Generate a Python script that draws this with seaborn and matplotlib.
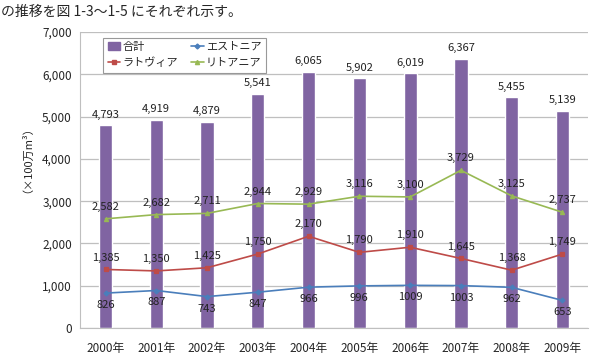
import matplotlib
matplotlib.use("Agg")
import matplotlib.pyplot as plt
import seaborn as sns
import pandas as pd
from matplotlib.lines import Line2D
from matplotlib.patches import Patch

years = ["2000年", "2001年", "2002年", "2003年", "2004年", "2005年", "2006年", "2007年", "2008年", "2009年"]
total = [4793, 4919, 4879, 5541, 6065, 5902, 6019, 6367, 5455, 5139]
estonia = [826, 887, 743, 847, 966, 996, 1009, 1003, 962, 653]
latvia = [1385, 1350, 1425, 1750, 2170, 1790, 1910, 1645, 1368, 1749]
lithuania = [2582, 2682, 2711, 2944, 2929, 3116, 3100, 3729, 3125, 2737]
yticks = [0, 1000, 2000, 3000, 4000, 5000, 6000, 7000]

sns.set_style("white")
plt.rcParams["font.family"] = ["Noto Sans CJK JP", "DejaVu Sans"]

df = pd.DataFrame({"year": years, "total": total, "est": estonia, "lat": latvia, "lit": lithuania})

fig = plt.figure(figsize=(5.98, 3.54), dpi=100)
ax = fig.add_axes([0.134, 0.0734, 0.849, 0.8362])

c_bar = "#8064A2"
c_est = "#4A7EBB"
c_lat = "#BE4B48"
c_lit = "#98B954"

sns.barplot(data=df, x="year", y="total", color=c_bar, width=0.26, saturation=1, ax=ax, zorder=2)
sns.pointplot(data=df, x="year", y="lit", color=c_lit, markers="^", markersize=3, linewidth=1.2, ax=ax, zorder=3)
sns.pointplot(data=df, x="year", y="lat", color=c_lat, markers="s", markersize=3, linewidth=1.2, ax=ax, zorder=3)
sns.pointplot(data=df, x="year", y="est", color=c_est, markers="D", markersize=2.5, linewidth=1.2, ax=ax, zorder=3)

ax.set_ylim(0, 7000)
ax.set_xlim(-0.5, 9.5)
ax.set_yticks(yticks)
ax.set_yticklabels([f"{v:,}" for v in yticks], fontsize=8.5)
ax.tick_params(axis="x", labelsize=8.5, length=0, pad=10)
ax.tick_params(axis="y", length=0, pad=6)
ax.set_xlabel("")
ax.set_ylabel("")
ax.yaxis.grid(True, color="#BFBFBF", linewidth=0.9, zorder=0)
ax.set_axisbelow(True)
for s in ["top", "right"]:
    ax.spines[s].set_visible(False)
ax.spines["left"].set_color("#BFBFBF")
ax.spines["bottom"].set_color("#BFBFBF")

fs = 8
for i, v in enumerate(total):
    ax.annotate(f"{v:,}", (i, v), xytext=(0, 4), textcoords="offset points", ha="center", va="bottom", fontsize=fs, color="#222222")
for i, v in enumerate(lithuania):
    ax.annotate(f"{v:,}", (i, v), xytext=(0, 5), textcoords="offset points", ha="center", va="bottom", fontsize=fs, color="#222222")
for i, v in enumerate(latvia):
    ax.annotate(f"{v:,}", (i, v), xytext=(0, 5), textcoords="offset points", ha="center", va="bottom", fontsize=fs, color="#222222")
for i, v in enumerate(estonia):
    ax.annotate(f"{v}", (i, v), xytext=(0, -5), textcoords="offset points", ha="center", va="top", fontsize=fs, color="#222222")

handles = [
    Patch(facecolor=c_bar, edgecolor=c_bar),
    Line2D([], [], color=c_lat, marker="s", markersize=3, linewidth=1.2),
    Line2D([], [], color=c_est, marker="D", markersize=2.5, linewidth=1.2),
    Line2D([], [], color=c_lit, marker="^", markersize=3, linewidth=1.2),
]
labels = ["合計", "ラトヴィア", "エストニア", "リトアニア"]
leg = ax.legend(handles, labels, ncol=2, loc="upper left", bbox_to_anchor=(0.035, 1.0),
                fontsize=8, frameon=True, fancybox=False, edgecolor="#808080",
                handlelength=1.1, handletextpad=0.2, columnspacing=1.2, borderpad=0.4,
                labelspacing=0.5)
leg.get_frame().set_linewidth(0.8)

fig.text(0.037, 0.565, "（×100万m³）", rotation=90, ha="center", va="center", fontsize=8)
fig.text(0.002, 0.965, "の推移を図 1-3～1-5 にそれぞれ示す。", ha="left", va="center", fontsize=10)

fig.savefig("out.png", dpi=100)
